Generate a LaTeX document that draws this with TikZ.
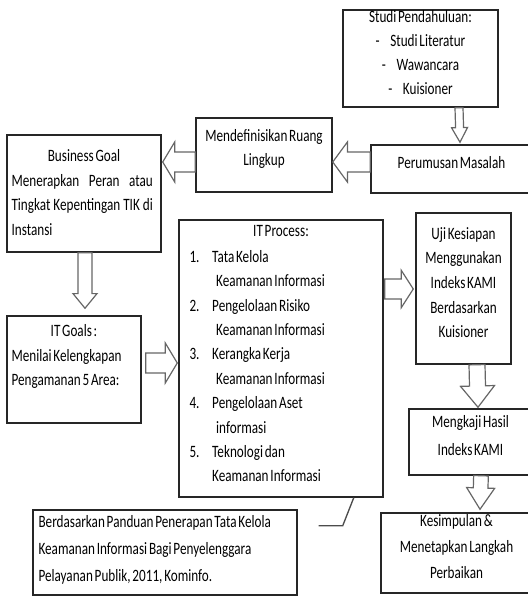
\documentclass[tikz,border=0pt]{standalone}
\usepackage{fontspec}
\setmainfont{Carlito}[FakeStretch=0.76, WordSpace=0.6]
\usetikzlibrary{positioning,calc,fit}
\tikzset{ % boxes, texts and hollow arrows
    block/.style={rectangle, draw=black!85, line width=1.1pt, inner sep=0pt, align=center, font=\fontsize{13}{18}\selectfont},
    txt/.style={inner sep=0pt, font=\fontsize{13}{18.3}\selectfont},
    hollowline/.style={draw=black!60, line width=0.9pt, line join=miter}
}
% plain word spaces in left aligned texts
\newcommand{\tight}{\spaceskip=0pt\xspaceskip=0pt\relax}
% start, end, half shaft width, half head width, head length
\newcommand{\hollow}[5]{%
    \coordinate (hb) at ($#2!#5!#1$);
    \draw[hollowline] ($#1!#3!90:#2$) -- ($(hb)!#3!90:#2$) -- ($(hb)!#4!90:#2$) -- #2
        -- ($(hb)!#4!-90:#2$) -- ($(hb)!#3!-90:#2$) -- ($#1!#3!-90:#2$) -- cycle;
}

\begin{document}
\begin{tikzpicture}[x=0.75pt, y=-0.75pt]
	\clip (0,0) rectangle (528,596);
	%Boxes
	\node[block, fit={(343,10) (498,107)}, font=\fontsize{13}{17.8}\selectfont] (studi)
		{Studi Pendahuluan:\\ -\hspace{8pt}Studi Literatur\\ -\hspace{8pt}Wawancara\\ -\hspace{8pt}Kuisioner};
	\node[block, fit={(371,145) (532,193)}] (perumusan) {Perumusan Masalah};
	\node[block, fit={(196,118) (332,192)}] (mendef) {Mendefinisikan Ruang\\Lingkup};
	\node[block, fit={(7,135) (161,252)}] (business) {};
	\node[block, fit={(7,316) (141,423)}] (itgoals) {};
	\node[block, fit={(179,220) (383,497)}] (itprocess) {};
	\node[block, fit={(416,213) (511,364)}, font=\fontsize{13}{18.5}\selectfont] (uji)
		{Uji Kesiapan\\Menggunakan\\Indeks KAMI\\Berdasarkan\\Kuisioner};
	\node[block, fit={(409,409) (532,475)}, font=\fontsize{13}{21}\selectfont] (mengkaji) {Mengkaji Hasil\\Indeks KAMI};
	\node[block, fit={(381,513) (532,593)}, font=\fontsize{13}{19.5}\selectfont] (kesimpulan)
		{Kesimpulan \&\\Menetapkan Langkah\\Perbaikan};
	\node[block, fit={(33,510) (297,595)}] (berdasarkan) {};
	%Texts
	\node[txt, anchor=base] (businesstitle) at ($(business.north)+(0,27)$) {Business Goal};
	\node[txt, anchor=base west, text width=106pt, align=justify] (businessbody) at ($(business.north west)+(5,52)$)
		{Menerapkan Peran atau\linebreak Tingkat Kepentingan TIK di\linebreak Instansi};
	\node[txt, anchor=base] (itgoalstitle) at ($(itgoals.north)+(0,21)$) {IT Goals :};
	\node[txt, anchor=base west, text width=96pt, align=left] (itgoalsbody) at ($(itgoals.north west)+(5,46)$)
		{\tight Menilai Kelengkapan\\Pengamanan 5 Area:};
	\node[txt, anchor=base] (itprocesstitle) at ($(itprocess.north)+(0,17)$) {IT Process:};
	\node[txt, anchor=base west, text width=140pt, align=left] (itprocesslist) at ($(itprocess.north west)+(11,43)$)
		{\tight\makebox[17pt][l]{1.}Tata Kelola\\
		\hspace*{20pt}Keamanan Informasi\\
		\makebox[17pt][l]{2.}Pengelolaan Risiko\\
		\hspace*{20pt}Keamanan Informasi\\
		\makebox[17pt][l]{3.}Kerangka Kerja\\
		\hspace*{20pt}Keamanan Informasi\\
		\makebox[17pt][l]{4.}Pengelolaan Aset\\
		\hspace*{20pt}informasi\\
		\makebox[17pt][l]{5.}Teknologi dan\\
		\hspace*{17pt}Keamanan Informasi};
	\node[txt, anchor=base west, text width=190pt, align=left, font=\fontsize{13}{20.5}\selectfont] (berdasarkantext)
		at ($(berdasarkan.north west)+(6,18)$)
		{\tight Berdasarkan Panduan Penerapan Tata Kelola\\Keamanan Informasi Bagi Penyelenggara\\Pelayanan Publik, 2011, Kominfo.};
	%Arrows
	\hollow{($(studi.south)+(38.5,0)$)}{($(perumusan.north)+(8.5,-2)$)}{3pt}{6pt}{11pt}
	\hollow{($(perumusan.west)+(0,-7)$)}{($(mendef.east)+(0,7)$)}{7.5pt}{15pt}{11pt}
	\hollow{($(mendef.west)+(0,7)$)}{($(business.east)+(1,-31.5)$)}{7.5pt}{15pt}{9pt}
	\hollow{($(business.south)+(1,0)$)}{($(itgoals.north)+(11,-7)$)}{5.25pt}{9pt}{11pt}
	\hollow{($(itgoals.east)+(4,-6.5)$)}{($(itprocess.west)+(-1,4.5)$)}{7.5pt}{15pt}{9pt}
	\hollow{($(itprocess.east)+(1,-69.5)$)}{($(uji.west)+(-2,0.5)$)}{7.5pt}{14pt}{9pt}
	\hollow{($(uji.south)+(13.5,0)$)}{($(mengkaji.north)+(7.5,-1)$)}{6pt}{12.75pt}{16pt}
	\hollow{($(mengkaji.south)+(10.5,0)$)}{($(kesimpulan.north)+(23.5,-3)$)}{5.5pt}{10.5pt}{16pt}
	%Callout line
	\draw[black!70, line width=1pt] ($(itprocess.south east)+(-30,0)$) -- ++(-11,28) -- ++(-24,0);
\end{tikzpicture}
\end{document}
